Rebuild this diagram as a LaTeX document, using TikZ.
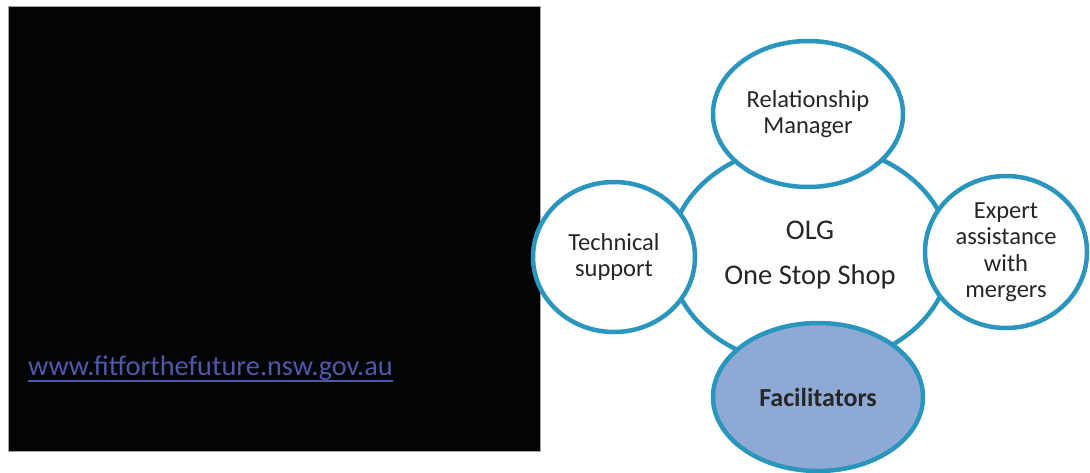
\documentclass[tikz,border=0pt]{standalone}
\usepackage{fontspec}
\setmainfont{Carlito}
\usepackage{xcolor}
\usetikzlibrary{shapes.geometric}

\definecolor{ringblue}{RGB}{42,150,190}
\definecolor{facfill}{RGB}{142,170,212}
\definecolor{linkblue}{RGB}{78,88,168}
\definecolor{inkgray}{RGB}{38,38,38}

\begin{document}
\begin{tikzpicture}[
  x=1pt, y=-1pt,
  bubble/.style={ellipse, draw=ringblue, line width=4.5pt, fill=white, inner sep=0pt,
               align=center, text=inkgray, font=\fontsize{24.5}{26.5}\selectfont},
  hub/.style={bubble, minimum width=280pt, minimum height=222pt,
              font=\fontsize{28.5}{45}\selectfont}
]
\useasboundingbox (0,0) rectangle (1090,472);

% black slide panel
\node[draw=gray!70, line width=1pt, fill={rgb,255:red,3;green,5;blue,5}, inner sep=0pt,
      minimum width=532pt, minimum height=445pt, anchor=north west] (panel) at (8,6) {};
\node[anchor=base west, inner sep=0pt, text=linkblue, font=\fontsize{28.3}{30}\selectfont]
  (url) at (28,375) {www.fitforthefuture.nsw.gov.au};
\draw[linkblue, line width=1.2pt] ([yshift=-6pt]url.base west) -- ([yshift=-6pt]url.base east);

% one stop shop
\node[hub] (olg) at (810,255) {OLG\\One Stop Shop};
\node[bubble, minimum width=190pt, minimum height=146pt] (relman) at (808,114) {Relationship\\Manager};
\node[bubble, minimum width=162pt, minimum height=150pt] (tech) at (614,257) {Technical\\support};
\node[bubble, minimum width=162pt, minimum height=152pt] (expert) at (1006,252) {Expert\\assistance\\with\\mergers};
\node[bubble, fill=facfill, minimum width=210pt, minimum height=148pt,
      font=\fontsize{26}{28}\selectfont\bfseries] (facil) at (818,397) {Facilitators};
\end{tikzpicture}
\end{document}
